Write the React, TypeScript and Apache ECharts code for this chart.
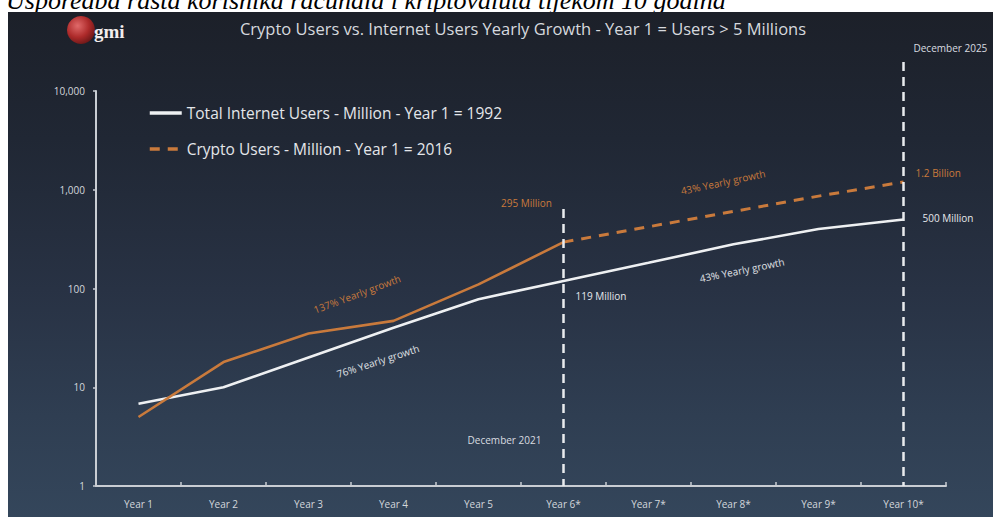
import React, { useEffect, useRef } from 'react';
import * as echarts from 'echarts';

const categories = ['Year 1', 'Year 2', 'Year 3', 'Year 4', 'Year 5', 'Year 6*', 'Year 7*', 'Year 8*', 'Year 9*', 'Year 10*'];
const internetUsers = [6.8, 10, 20, 40, 78, 119, 182, 280, 400, 500];
const cryptoActual = [5, 18, 35, 47, 110, 295, null, null, null, null];
const cryptoProjected = [null, null, null, null, null, 295, 422, 603, 862, 1200];

const internetName = 'Total Internet Users - Million - Year 1 = 1992';
const cryptoName = 'Crypto Users - Million - Year 1 = 2016';
const cryptoActualName = 'Crypto Users (actual)';

const titleText = 'Crypto Users vs. Internet Users Yearly Growth - Year 1 = Users > 5 Millions';
const captionText = 'Usporedba rasta korisnika računala i kriptovaluta tijekom 10 godina';

const WHITE = '#eef0f2';
const ORANGE = '#c97a3c';
const FONT = '"Open Sans", "Noto Sans", sans-serif';

export default function App() {
  const ref = useRef<HTMLDivElement>(null);
  useEffect(() => {
    const chart = echarts.init(ref.current!, null, { renderer: 'svg' });
    chart.setOption({
      animation: false,
      backgroundColor: 'transparent',
      textStyle: { fontFamily: FONT },
      grid: { left: 96, right: 47, top: 91, bottom: 31, containLabel: false },
      legend: {
        data: [internetName, cryptoName],
        orient: 'vertical',
        left: 143,
        top: 100,
        itemWidth: 32,
        itemHeight: 14,
        itemGap: 20,
        itemStyle: { opacity: 0 },
        lineStyle: { width: 3.5 },
        textStyle: { color: '#e4e6ea', fontSize: 15.5, fontFamily: FONT },
      },
      xAxis: {
        type: 'category',
        data: categories,
        boundaryGap: true,
        axisLine: { lineStyle: { color: '#c9cdd3', width: 2 } },
        axisTick: { show: true, inside: true, length: 4, lineStyle: { color: '#c9cdd3', width: 1.5 } },
        axisLabel: { color: '#d3d7dc', fontSize: 10, margin: 13 },
        splitLine: { show: false },
      },
      yAxis: {
        type: 'log',
        logBase: 10,
        min: 1,
        max: 10000,
        axisLine: { show: true, lineStyle: { color: '#c9cdd3', width: 2 } },
        axisTick: { show: true, length: 3, lineStyle: { color: '#c9cdd3', width: 1.5 } },
        axisLabel: {
          color: '#d3d7dc',
          fontSize: 10,
          margin: 11,
          formatter: (v: number) => Math.round(v).toLocaleString('en-US'),
        },
        splitLine: { show: false },
        minorTick: { show: false },
      },
      series: [
        {
          name: internetName,
          type: 'line',
          data: internetUsers,
          symbol: 'none',
          lineStyle: { color: WHITE, width: 2.6 },
          itemStyle: { color: WHITE },
          z: 3,
        },
        {
          name: cryptoActualName,
          type: 'line',
          data: cryptoActual,
          symbol: 'none',
          lineStyle: { color: ORANGE, width: 2.6 },
          itemStyle: { color: ORANGE },
          z: 4,
        },
        {
          name: cryptoName,
          type: 'line',
          data: cryptoProjected,
          symbol: 'none',
          lineStyle: { color: ORANGE, width: 3, type: [10, 8] },
          itemStyle: { color: ORANGE },
          z: 4,
        },
      ],
    });

    const x6 = chart.convertToPixel({ xAxisIndex: 0 }, 'Year 6*') as number;
    const x10 = chart.convertToPixel({ xAxisIndex: 0 }, 'Year 10*') as number;
    const yBottom = chart.convertToPixel({ yAxisIndex: 0 }, 1) as number;

    const annot = (text: string, x: number, y: number, color: string, align: string, rotDeg = 0, size = 10) => ({
      type: 'text',
      x,
      y,
      rotation: (rotDeg * Math.PI) / 180,
      style: {
        text,
        fill: color,
        font: `${size}px ${FONT}`,
        textAlign: align,
        textVerticalAlign: 'middle',
      },
      z: 10,
    });

    chart.setOption({
      graphic: [
        {
          type: 'text',
          x: 6,
          y: 13,
          style: {
            text: captionText,
            fill: '#000',
            font: 'italic 26px "Liberation Serif", "DejaVu Serif", serif',
            textAlign: 'left',
            textVerticalAlign: 'bottom',
          },
          z: 0,
        },
        {
          type: 'rect',
          shape: { x: 8, y: 12, width: 985, height: 6 },
          style: { fill: '#1c2029' },
          z: 1,
        },
        {
          type: 'circle',
          shape: { cx: 81, cy: 30, r: 14 },
          style: {
            fill: new echarts.graphic.RadialGradient(0.38, 0.35, 0.75, [
              { offset: 0, color: '#e06a6a' },
              { offset: 0.55, color: '#ad2a2a' },
              { offset: 1, color: '#5e1414' },
            ]),
          },
          z: 10,
        },
        {
          type: 'text',
          x: 94,
          y: 31,
          style: {
            text: 'gmi',
            fill: '#f2eeee',
            font: 'bold 19px "Liberation Serif", "DejaVu Serif", serif',
            textAlign: 'left',
            textVerticalAlign: 'middle',
          },
          z: 11,
        },
        annot(titleText, 523, 28, '#d6d9de', 'center', 0, 16.5),
        {
          type: 'line',
          shape: { x1: x6, y1: 209, x2: x6, y2: yBottom },
          style: { stroke: '#e9ebee', lineWidth: 2.5, lineDash: [9, 6] },
          z: 5,
        },
        {
          type: 'line',
          shape: { x1: x10, y1: 62, x2: x10, y2: yBottom },
          style: { stroke: '#e9ebee', lineWidth: 2.5, lineDash: [9, 6] },
          z: 5,
        },
        annot('December 2021', x6 - 59, 440, '#d9dce0', 'center'),
        annot('December 2025', x10 + 10, 48, '#d9dce0', 'left'),
        annot('295 Million', x6 - 37, 203, ORANGE, 'center'),
        annot('119 Million', x6 + 12, 296, '#e6e8eb', 'left'),
        annot('1.2 Billion', x10 + 12, 173, ORANGE, 'left'),
        annot('500 Million', x10 + 19, 218, '#e6e8eb', 'left'),
        annot('137% Yearly growth', 357, 294, ORANGE, 'center', 20.5),
        annot('76% Yearly growth', 378, 361, '#e0e3e7', 'center', 18),
        annot('43% Yearly growth', 723, 182, ORANGE, 'center', 12),
        annot('43% Yearly growth', 742, 270, '#e0e3e7', 'center', 11.5),
      ],
    });

    return () => chart.dispose();
  }, []);

  return (
    <div style={{ position: 'fixed', left: 0, top: 0, width: 993, height: 517, background: '#fff', overflow: 'hidden' }}>
      <div
        style={{
          position: 'absolute',
          left: 8,
          top: 12,
          width: 985,
          height: 505,
          background: 'linear-gradient(to bottom, #1c2029 0%, #202734 25%, #283244 55%, #2f3e52 80%, #34465b 100%)',
        }}
      />
      <div ref={ref} style={{ position: 'absolute', left: 0, top: 0, width: 993, height: 517 }} />
    </div>
  );
}
